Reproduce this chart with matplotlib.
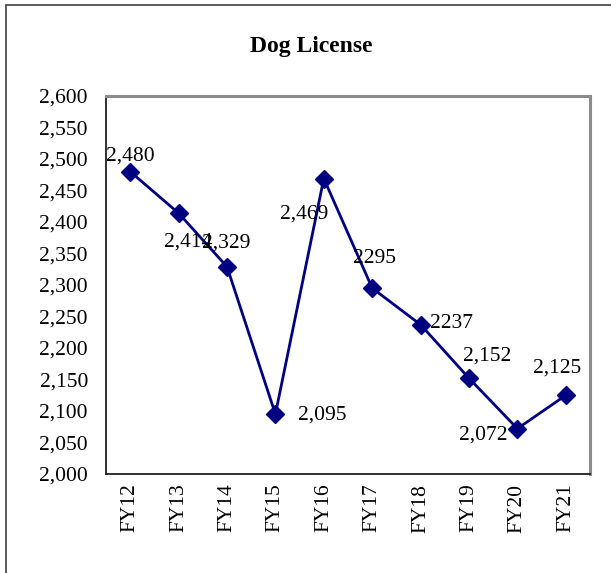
import matplotlib
matplotlib.use("Agg")
import matplotlib.pyplot as plt
from matplotlib.patches import Rectangle
from matplotlib.ticker import FuncFormatter

# Dog license counts by fiscal year
years = ["FY12", "FY13", "FY14", "FY15", "FY16", "FY17", "FY18", "FY19", "FY20", "FY21"]
licenses = [2480, 2414, 2329, 2095, 2469, 2295, 2237, 2152, 2072, 2125]
value_labels = ["2,480", "2,414", "2,329", "2,095", "2,469", "2295", "2237", "2,152", "2,072", "2,125"]
# label placement relative to each point (pixels)
label_offsets = [(0, 11), (10, -33), (-1, 19), (47, -5), (-20, -40),
                 (2, 25), (31, -3), (18, 18), (-34, -11), (-9, 23)]

y_ticks = list(range(2000, 2601, 50))

plt.rcParams["font.family"] = ["Liberation Serif", "DejaVu Serif"]

fig = plt.figure(figsize=(6.11, 5.73), dpi=100)
fig.patch.set_facecolor("white")

# outer chart frame
frame = Rectangle((6 / 611, -0.1), 1.1, (573 - 5) / 573 + 0.1,
                  transform=fig.transFigure, fill=False,
                  edgecolor="#404040", linewidth=1.2, clip_on=False)
fig.add_artist(frame)

ax = fig.add_axes([106 / 611, 1 - 474 / 573, (590 - 106) / 611, (474 - 96) / 573])

x = list(range(len(years)))
ax.plot(x, licenses, color="#000080", linewidth=2, marker="D",
        markersize=9, markerfacecolor="#000080", markeredgecolor="#000080")

for xi, v, txt, (dx, dy) in zip(x, licenses, value_labels, label_offsets):
    ax.annotate(txt, (xi, v), xytext=(dx, dy), textcoords="offset pixels",
                ha="center", va="baseline", fontsize=15.5, color="black")

ax.set_xlim(-0.5, len(years) - 0.5)
ax.set_ylim(2000, 2600)
ax.set_yticks(y_ticks)
ax.yaxis.set_major_formatter(FuncFormatter(lambda v, p: f"{int(v):,}"))
ax.set_xticks(x)
ax.set_xticklabels(years, rotation=90)
ax.tick_params(axis="y", length=0, pad=13, labelsize=15.5)
ax.tick_params(axis="x", length=0, pad=7, labelsize=15.5)

for side in ("left", "bottom"):
    ax.spines[side].set_color("#202020")
    ax.spines[side].set_linewidth(1.3)
for side in ("top", "right"):
    ax.spines[side].set_color("#8c8c8c")
    ax.spines[side].set_linewidth(2.2)

fig.text(311 / 611, 1 - 52 / 573, "Dog License", ha="center", va="baseline",
         fontsize=17, fontweight="bold")

fig.savefig("out.png", dpi=100)
